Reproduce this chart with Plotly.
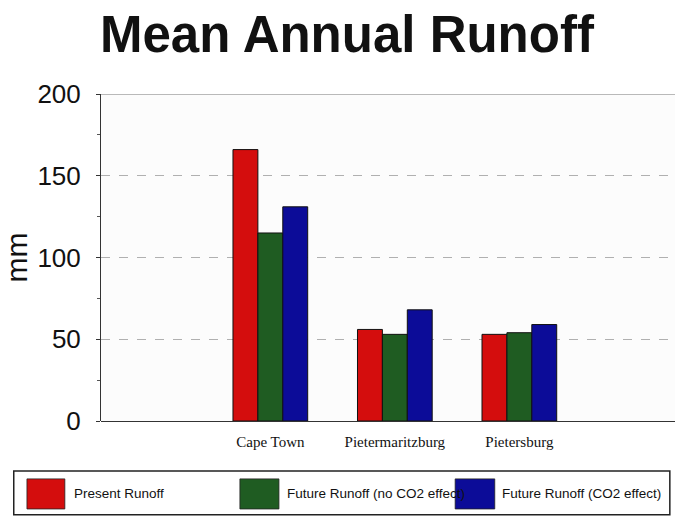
import plotly.graph_objects as go

# Mean annual runoff (mm) at three South African sites
sites = ["Cape Town", "Pietermaritzburg", "Pietersburg"]
series_names = ["Present Runoff", "Future Runoff (no CO2 effect)", "Future Runoff (CO2 effect)"]
present = [166, 56, 53]
future_no_co2 = [115, 53, 54]
future_co2 = [131, 68, 59]
y_ticks = [0, 50, 100, 150, 200]

colors = ["#d40d0d", "#1f5c22", "#0c0c98"]
values = [present, future_no_co2, future_co2]

fig = go.Figure()
for name, vals, col in zip(series_names, values, colors):
    fig.add_trace(go.Bar(
        x=sites, y=vals, name=name,
        marker=dict(color=col, line=dict(color="#111111", width=1)),
        showlegend=False,
    ))

fig.update_layout(
    width=675, height=519,
    margin=dict(l=101, r=0, t=94, b=98),
    paper_bgcolor="white",
    plot_bgcolor="#fcfcfc",
    barmode="group",
    bargap=0.4,
    bargroupgap=0,
    title=dict(
        text="<b>Mean Annual Runoff</b>",
        x=0.514, xanchor="center", y=0.934, yanchor="middle",
        font=dict(family="Liberation Sans, Arial", size=51, color="#111111"),
    ),
    font=dict(family="Liberation Sans, Arial", color="#111111"),
)

fig.update_xaxes(
    type="category",
    range=[-1.36, 3.25],
    showgrid=False,
    showline=False,
    ticks="",
    ticklabelstandoff=10,
    tickfont=dict(family="Liberation Serif, Times New Roman", size=15, color="#111111"),
)

fig.update_yaxes(
    range=[0, 200],
    tickvals=y_ticks,
    tickfont=dict(family="Liberation Sans, Arial", size=26, color="#111111"),
    ticks="outside", ticklen=4, tickcolor="#333333",
    minor=dict(ticks="outside", ticklen=3, dtick=25, tickcolor="#555555"),
    showline=True, linecolor="#333333", linewidth=1,
    showgrid=True, gridcolor="#b0b0b0", griddash="dash", gridwidth=1,
    zeroline=True, zerolinecolor="#333333", zerolinewidth=1,
    ticklabelstandoff=10,
    title=dict(text="mm", font=dict(family="Liberation Sans, Arial", size=30, color="#111111"), standoff=4),
)

# solid line across the top of the value axis
fig.add_hline(y=200, line=dict(color="#777777", width=1))

# legend box along the bottom
fig.add_shape(type="rect", xref="paper", yref="paper",
              x0=-0.152, x1=0.991, y0=-0.287, y1=-0.153,
              line=dict(color="#222222", width=1.5), fillcolor="white")

swatches = [(-0.129, -0.063), (0.242, 0.310), (0.617, 0.686)]
text_x = [-0.050, 0.321, 0.695]
for tx, name in zip(text_x, series_names):
    fig.add_annotation(xref="paper", yref="paper", x=tx, y=-0.223,
                       xanchor="left", yanchor="middle", showarrow=False,
                       text=name,
                       font=dict(family="Liberation Sans, Arial", size=13.5, color="#111111"))
# swatches sit above the labels, so the long middle label runs under the blue one
for (sx0, sx1), col in zip(swatches, colors):
    fig.add_shape(type="rect", xref="paper", yref="paper", layer="above",
                  x0=sx0, x1=sx1, y0=-0.269, y1=-0.177,
                  line=dict(color="#222222", width=0.8), fillcolor=col)

fig.write_html("out.html")
